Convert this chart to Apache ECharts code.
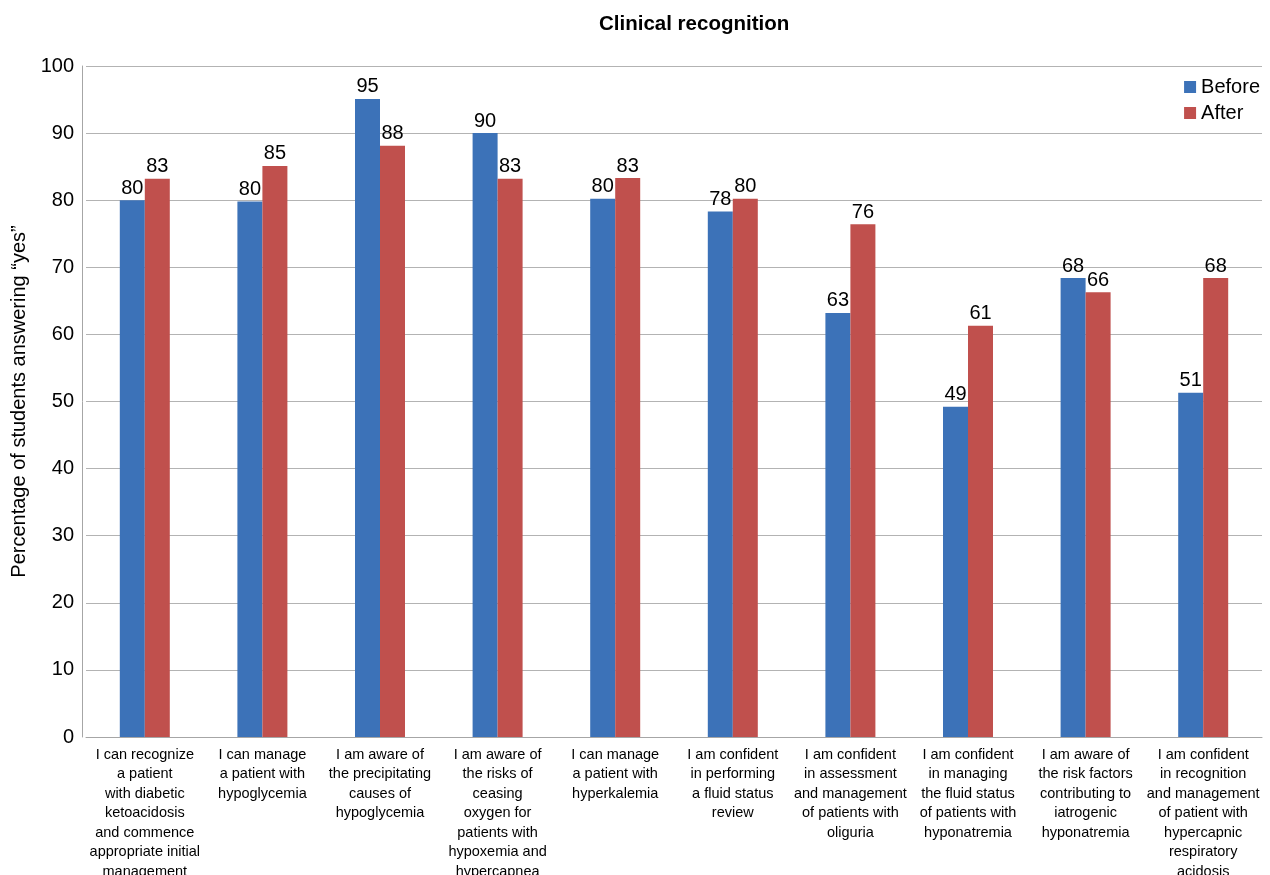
<!DOCTYPE html>
<html><head><meta charset="utf-8">
<script src="https://cdn.jsdelivr.net/npm/echarts@6/dist/echarts.min.js"></script>
<style>html,body{margin:0;padding:0;background:#fff}#c{width:1270px;height:875px}</style>
</head><body><div id="c"></div>
<script>
const categories = [
  "I can recognize\na patient\nwith diabetic\nketoacidosis\nand commence\nappropriate initial\nmanagement",
  "I can manage\na patient with\nhypoglycemia",
  "I am aware of\nthe precipitating\ncauses of\nhypoglycemia",
  "I am aware of\nthe risks of\nceasing\noxygen for\npatients with\nhypoxemia and\nhypercapnea",
  "I can manage\na patient with\nhyperkalemia",
  "I am confident\nin performing\na fluid status\nreview",
  "I am confident\nin assessment\nand management\nof patients with\noliguria",
  "I am confident\nin managing\nthe fluid status\nof patients with\nhyponatremia",
  "I am aware of\nthe risk factors\ncontributing to\niatrogenic\nhyponatremia",
  "I am confident\nin recognition\nand management\nof patient with\nhypercapnic\nrespiratory\nacidosis"
];
const beforeValues = [80.0, 79.8, 95.1, 90.0, 80.2, 78.3, 63.2, 49.2, 68.4, 51.3];
const afterValues  = [83.2, 85.1, 88.1, 83.2, 83.3, 80.2, 76.4, 61.3, 66.3, 68.4];
const yTicks = [0, 10, 20, 30, 40, 50, 60, 70, 80, 90, 100];

const chart = echarts.init(document.getElementById('c'));
const font = 'Liberation Sans, Arial, sans-serif';
const labelCfg = {show: true, position: 'top', distance: 2, color: '#000', fontSize: 20, fontFamily: font,
  formatter: p => Math.round(p.value)};
chart.setOption({
  animation: false,
  title: {text: 'Clinical recognition', left: 594, top: 9,
    textStyle: {fontSize: 20.5, fontWeight: 'bold', color: '#000', fontFamily: font}},
  legend: {right: 10, top: 77, orient: 'vertical', itemWidth: 12, itemHeight: 12, itemGap: 6,
    icon: 'rect', textStyle: {fontSize: 20, color: '#000', fontFamily: font}, padding: 0,
    data: ['Before', 'After']},
  grid: {left: 86, right: 8, top: 66, bottom: 138, containLabel: false, outerBoundsMode: 'none'},
  xAxis: {type: 'category', data: categories,
    axisLine: {lineStyle: {color: '#a6a6a6', width: 1}},
    axisTick: {show: false},
    axisLabel: {interval: 0, fontSize: 14.5, lineHeight: 19.5, color: '#000', fontFamily: font, margin: 8}},
  yAxis: {type: 'value', min: yTicks[0], max: yTicks[yTicks.length-1], interval: 10, offset: 4,
    name: 'Percentage of students answering \u201cyes\u201d', nameLocation: 'middle', nameGap: 47,
    nameTextStyle: {fontSize: 20, color: '#000', fontFamily: font},
    axisLine: {show: true, lineStyle: {color: '#a6a6a6'}},
    axisTick: {show: false},
    axisLabel: {fontSize: 20, color: '#000', fontFamily: font, margin: 8},
    splitLine: {lineStyle: {color: '#b3b3b3', width: 1}}},
  series: [
    {name: 'Before', type: 'bar', data: beforeValues, barWidth: 25, barGap: '0%',
      itemStyle: {color: '#3c72b8'}, label: labelCfg},
    {name: 'After', type: 'bar', data: afterValues, barWidth: 25, barGap: '0%',
      itemStyle: {color: '#c0504d'}, label: labelCfg}
  ]
});
</script></body></html>
